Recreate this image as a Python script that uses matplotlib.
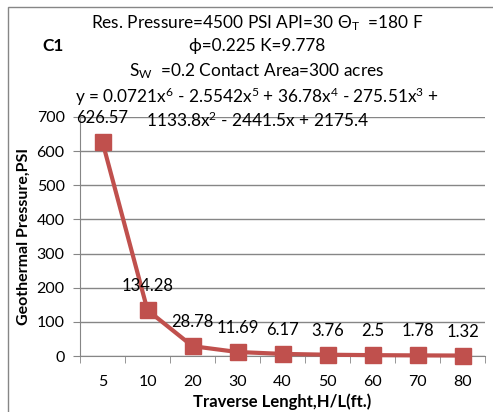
import numpy as np
import matplotlib.pyplot as plt
from matplotlib.patches import Rectangle

plt.rcParams['font.family'] = ['Lato', 'DejaVu Sans']
plt.rcParams['mathtext.fontset'] = 'custom'
plt.rcParams['mathtext.rm'] = 'Lato'
plt.rcParams['mathtext.it'] = 'Lato'
plt.rcParams['mathtext.bf'] = 'Lato:bold'

# data
lengths = ['5', '10', '20', '30', '40', '50', '60', '70', '80']
pressure = [626.57, 134.28, 28.78, 11.69, 6.17, 3.76, 2.5, 1.78, 1.32]
yticks = [0, 100, 200, 300, 400, 500, 600, 700]

W, H = 493, 412
fig = plt.figure(figsize=(W / 100, H / 100), dpi=100)

# outer chart frame
fig.patches.append(Rectangle((8 / W, -0.1), 1.2, 1 - 7 / H + 0.1, transform=fig.transFigure,
                             fill=False, edgecolor='#868686', linewidth=1))

ax = fig.add_axes([80 / W, 1 - 356 / H, 405 / W, 239 / H])
x = np.arange(len(lengths))
red = '#C0504D'
ax.plot(x, pressure, color=red, linewidth=3, marker='s', markersize=11, zorder=3, clip_on=False)

for xi, v in zip(x, pressure):
    ax.annotate(f'{v:g}', (xi, v), xytext=(0, 24), textcoords='offset pixels',
                ha='center', va='center', fontsize=12, color='black')

ax.set_xlim(-0.5, len(lengths) - 0.5)
ax.set_ylim(0, 700)
ax.set_yticks(yticks)
ax.set_xticks(x)
ax.set_xticklabels(lengths)
ax.set_xticks(np.arange(-0.5, len(lengths)), minor=True)
ax.tick_params(axis='x', which='major', length=0, pad=14, labelsize=11.5)
ax.tick_params(axis='x', which='minor', length=5, color='#868686', direction='out')
ax.tick_params(axis='y', length=5, color='#868686', pad=6, labelsize=11.5)
ax.yaxis.grid(True, color='#868686', linewidth=1)
ax.set_axisbelow(True)
for s in ['top', 'right']:
    ax.spines[s].set_visible(False)
for s in ['left', 'bottom']:
    ax.spines[s].set_color('#868686')

ax.set_xlabel('Traverse Lenght,H/L(ft.)', fontsize=12, fontweight='bold', labelpad=3)
ax.set_ylabel('Geothermal Pressure,PSI', fontsize=11.5, fontweight='bold', labelpad=4)

# title block
cx = 257 / W
fs = 12.4
fig.text(cx, 1 - 23 / H, r'Res. Pressure=4500 PSI API=30 $\Theta_{\mathrm{T}}$  =180 F',
         ha='center', va='center', fontsize=fs)
fig.text(cx, 1 - 46 / H, 'ϕ=0.225 K=9.778', ha='center', va='center', fontsize=fs)
fig.text(cx, 1 - 71 / H, r'S$_{\mathrm{W}}$  =0.2 Contact Area=300 acres',
         ha='center', va='center', fontsize=fs)
fig.text(cx, 1 - 97 / H,
         r'y = 0.0721x$^{6}$ - 2.5542x$^{5}$ + 36.78x$^{4}$ - 275.51x$^{3}$ +',
         ha='center', va='center', fontsize=fs)
fig.text(cx, 1 - 120 / H, r'1133.8x$^{2}$ - 2441.5x + 2175.4',
         ha='center', va='center', fontsize=fs)
fig.text(53 / W, 1 - 46 / H, 'C1', ha='center', va='center', fontsize=fs, fontweight='bold')

fig.savefig('out.png', dpi=100)
